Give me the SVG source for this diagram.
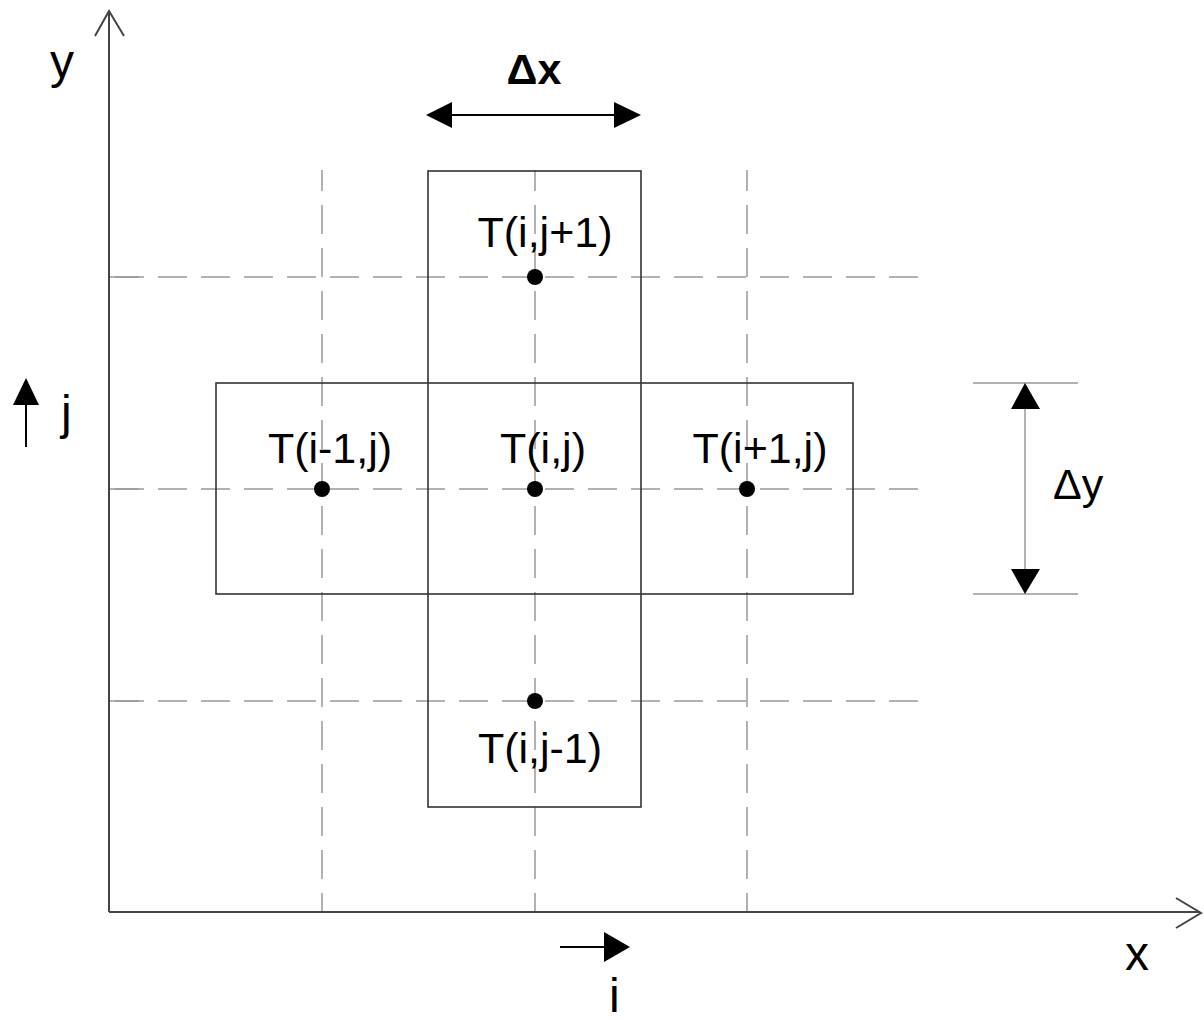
<svg xmlns="http://www.w3.org/2000/svg" width="1204" height="1020" viewBox="0 0 1204 1020">
<style>
.grid{stroke:#999;stroke-width:1.5;stroke-dasharray:29 14;fill:none}
.cell{fill:none;stroke:#333;stroke-width:1.6}
.axis{stroke:#444;stroke-width:2;fill:none}
.lbl{font-family:"Liberation Sans",Arial,sans-serif;font-size:43px;fill:#000}
.big{font-family:"Liberation Sans",Arial,sans-serif;font-size:48px;fill:#000}
.dot{fill:#000}
.tri{fill:#000}
</style>
<rect width="1204" height="1020" fill="#fff"/>
<g id="grid">
<line class="grid" x1="322" y1="170" x2="322" y2="912" stroke-dashoffset="8"/>
<line class="grid" x1="535" y1="170" x2="535" y2="912" stroke-dashoffset="8"/>
<line class="grid" x1="747" y1="170" x2="747" y2="912" stroke-dashoffset="8"/>
<line class="grid" x1="110" y1="277" x2="924" y2="277" stroke-dashoffset="-5"/>
<line class="grid" x1="110" y1="489" x2="924" y2="489" stroke-dashoffset="-5"/>
<line class="grid" x1="110" y1="701" x2="924" y2="701" stroke-dashoffset="-5"/>
<line class="grid" x1="110" y1="277" x2="144" y2="277" stroke-dasharray="none"/>
<line class="grid" x1="110" y1="489" x2="144" y2="489" stroke-dasharray="none"/>
<line class="grid" x1="110" y1="701" x2="144" y2="701" stroke-dasharray="none"/>
</g>
<g id="cells">
<rect class="cell" x="428" y="171" width="213" height="636"/>
<rect class="cell" x="216" y="383" width="637" height="211"/>
</g>
<g id="axes">
<line class="axis" x1="109" y1="11" x2="109" y2="912"/>
<polyline class="axis" points="95,36 109,11 124,36" stroke-width="1.6"/>
<line class="axis" x1="109" y1="912" x2="1200" y2="912"/>
<polyline class="axis" points="1176,898 1201,913 1176,928" stroke-width="1.6"/>
<text class="big" x="50" y="78">y</text>
<text class="big" x="1125" y="970">x</text>
</g>
<g id="node-top"><circle class="dot" cx="535" cy="277" r="8"/><text class="lbl" x="545" y="247" text-anchor="middle">T(i,j+1)</text></g>
<g id="node-left"><circle class="dot" cx="322" cy="489" r="8"/><text class="lbl" x="330" y="463" text-anchor="middle">T(i-1,j)</text></g>
<g id="node-center"><circle class="dot" cx="535" cy="489" r="8"/><text class="lbl" x="543" y="463" text-anchor="middle">T(i,j)</text></g>
<g id="node-right"><circle class="dot" cx="747" cy="489" r="8"/><text class="lbl" x="760" y="463" text-anchor="middle">T(i+1,j)</text></g>
<g id="node-bottom"><circle class="dot" cx="535" cy="701" r="8"/><text class="lbl" x="540" y="763" text-anchor="middle">T(i,j-1)</text></g>
<g id="dx">
<line x1="450" y1="115" x2="616" y2="115" stroke="#000" stroke-width="2"/>
<polygon class="tri" points="426,115 452,102 452,128"/>
<polygon class="tri" points="641,115 614,102 614,128"/>
<text class="lbl" x="534" y="84" text-anchor="middle" font-weight="bold" font-size="44">Δx</text>
</g>
<g id="dy">
<line x1="973" y1="383" x2="1078" y2="383" stroke="#999" stroke-width="1.5"/>
<line x1="973" y1="594" x2="1078" y2="594" stroke="#999" stroke-width="1.5"/>
<line x1="1025" y1="405" x2="1025" y2="572" stroke="#999" stroke-width="1.5"/>
<polygon class="tri" points="1025,383 1011,409 1040,409"/>
<polygon class="tri" points="1025,594 1011,569 1040,569"/>
<text class="lbl" x="1053" y="499" font-size="44">Δy</text>
</g>
<g id="j-dir">
<line x1="26" y1="447" x2="26" y2="400" stroke="#000" stroke-width="2"/>
<polygon class="tri" points="26,378 13,405 39,405"/>
<text class="big" x="61" y="429">j</text>
</g>
<g id="i-dir">
<line x1="560" y1="947" x2="606" y2="947" stroke="#000" stroke-width="2"/>
<polygon class="tri" points="630,947 604,932 604,962"/>
<text class="big" x="609" y="1012">i</text>
</g>
</svg>
